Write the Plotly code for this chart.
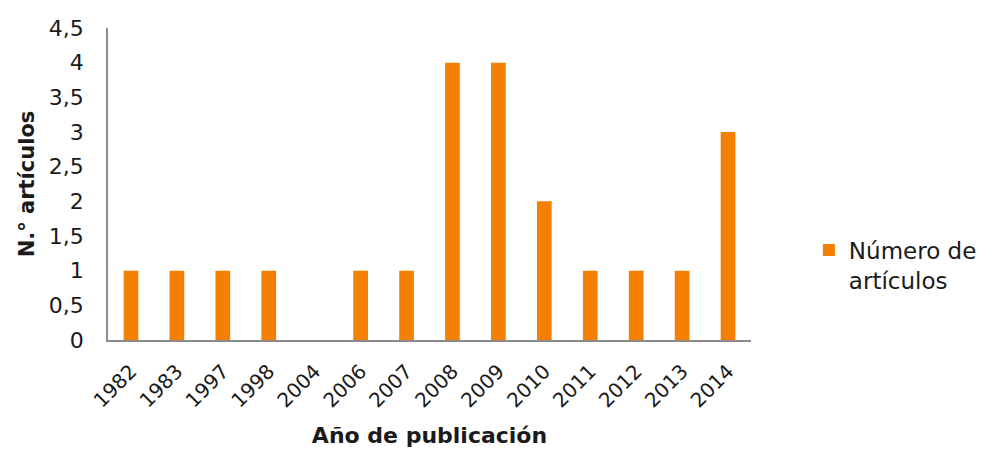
import plotly.graph_objects as go

years = ["1982", "1983", "1997", "1998", "2004", "2006", "2007", "2008",
         "2009", "2010", "2011", "2012", "2013", "2014"]
articles = [1, 1, 1, 1, 0, 1, 1, 4, 4, 2, 1, 1, 1, 3]
series_name = "Número de<br>artículos"
y_ticks = [0, 0.5, 1, 1.5, 2, 2.5, 3, 3.5, 4, 4.5]

FONT = "'DejaVu Sans', sans-serif"

fig = go.Figure()
fig.add_trace(go.Bar(
    x=years, y=articles, name=series_name,
    marker=dict(color="#F57F00", line=dict(width=0)),
    width=0.32, showlegend=True,
))

fig.update_layout(
    width=994, height=451,
    margin=dict(l=108, r=241, t=28, b=111),
    paper_bgcolor="white", plot_bgcolor="white",
    separators=",.",
    font=dict(family=FONT, size=20, color="#1a1a1a"),
    showlegend=True,
    legend=dict(x=1.09, y=0.24, xanchor="left", yanchor="middle",
                valign="top",
                font=dict(size=23, family=FONT, color="#1a1a1a"),
                itemwidth=30, bgcolor="rgba(0,0,0,0)"),
)
fig.update_xaxes(
    type="category", tickangle=-45, showline=True, linecolor="#8c8c8c",
    linewidth=1.5, ticks="", showgrid=False, ticklabelstandoff=10,
    automargin=False,
    tickfont=dict(size=20, family=FONT),
    title=dict(text="<b>Año de publicación</b>", font=dict(size=22, family=FONT),
               standoff=16),
)
fig.update_yaxes(
    range=[0, 4.5], tickvals=y_ticks, showline=True, linecolor="#8c8c8c",
    linewidth=1.5, ticks="", showgrid=False, zeroline=False,
    ticklabelstandoff=18, automargin=False,
    tickfont=dict(size=22, family=FONT),
    title=dict(text="<b>N.° artículos</b>", font=dict(size=21, family=FONT),
               standoff=8),
)

fig.write_html("out.html")
